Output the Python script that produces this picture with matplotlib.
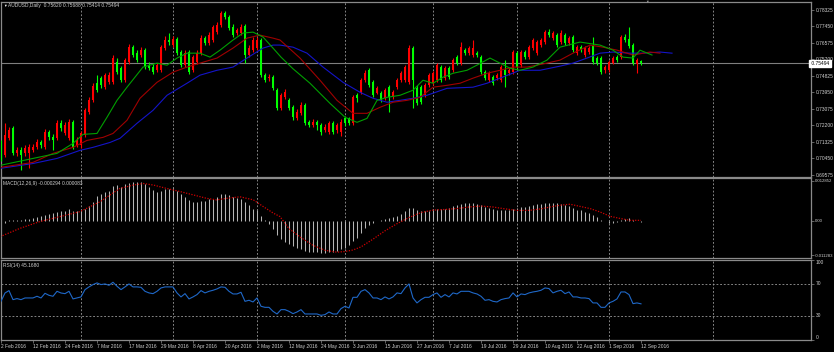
import matplotlib
matplotlib.use("Agg")
import matplotlib.pyplot as plt
from matplotlib.transforms import blended_transform_factory

W, H = 834, 352

# ---------------- data ----------------
date_labels = ["2 Feb 2016", "12 Feb 2016", "24 Feb 2016", "7 Mar 2016", "17 Mar 2016",
               "29 Mar 2016", "8 Apr 2016", "20 Apr 2016", "2 May 2016", "12 May 2016",
               "24 May 2016", "3 Jun 2016", "15 Jun 2016", "27 Jun 2016", "7 Jul 2016",
               "19 Jul 2016", "29 Jul 2016", "10 Aug 2016", "22 Aug 2016", "1 Sep 2016",
               "12 Sep 2016"]
date_bars = [0, 8, 16, 24, 32, 40, 48, 56, 64, 72, 80, 88, 96, 104, 112, 120, 128, 136, 144, 152, 160]
month_grid_bars = [20, 43, 64, 86, 108, 129, 152, 178]

price_ticks = [0.78325, 0.77450, 0.76575, 0.75700, 0.74825, 0.73950,
               0.73075, 0.72200, 0.71325, 0.70450, 0.69575]

opens = [.7123, .7059, .7150, .7203, .7070, .7086, .7070, .7070, .7086, .7102,
         .7128, .7102, .7182, .7155, .7150, .7230, .7176, .7150, .7235, .7112,
         .7112, .7166, .7288, .7352, .7443, .7470, .7422, .7448, .7448, .7555,
         .7523, .7459, .7555, .7635, .7603, .7593, .7619, .7539, .7529, .7512,
         .7512, .7630, .7673, .7646, .7678, .7609, .7539, .7609, .7512, .7555,
         .7603, .7683, .7657, .7673, .7715, .7753, .7817, .7795, .7742, .7710,
         .7710, .7747, .7593, .7619, .7630, .7673, .7486, .7470, .7475, .7406,
         .7310, .7368, .7352, .7315, .7256, .7283, .7326, .7235, .7219, .7235,
         .7219, .7192, .7182, .7230, .7192, .7182, .7256, .7256, .7230, .7379,
         .7390, .7459, .7512, .7448, .7390, .7390, .7363, .7422, .7368, .7422,
         .7459, .7459, .7448, .7630, .7416, .7422, .7379, .7432, .7443, .7459,
         .7529, .7470, .7523, .7512, .7582, .7550, .7619, .7603, .7593, .7603,
         .7582, .7502, .7459, .7475, .7470, .7459, .7512, .7496, .7502, .7603,
         .7539, .7609, .7582, .7630, .7603, .7646, .7662, .7715, .7683, .7699,
         .7662, .7699, .7657, .7689, .7603, .7635, .7593, .7609, .7646, .7577,
         .7577, .7512, .7512, .7550, .7582, .7582, .7689, .7678, .7646, .7545,
         .75620]
highs = [.7139, .7230, .7208, .7214, .7102, .7102, .7112, .7118, .7118, .7144,
         .7139, .7198, .7192, .7171, .7246, .7246, .7235, .7251, .7246, .7155,
         .7187, .7310, .7368, .7443, .7486, .7480, .7496, .7502, .7593, .7577,
         .7534, .7577, .7651, .7646, .7619, .7635, .7630, .7555, .7545, .7550,
         .7646, .7694, .7710, .7694, .7689, .7619, .7619, .7619, .7593, .7619,
         .7699, .7694, .7715, .7753, .7769, .7827, .7827, .7806, .7758, .7737,
         .7758, .7758, .7646, .7689, .7689, .7683, .7496, .7491, .7486, .7416,
         .7390, .7411, .7363, .7326, .7304, .7342, .7336, .7246, .7251, .7246,
         .7230, .7224, .7240, .7240, .7230, .7251, .7267, .7262, .7379, .7390,
         .7470, .7512, .7523, .7459, .7427, .7400, .7416, .7432, .7406, .7470,
         .7507, .7539, .7646, .7641, .7432, .7432, .7443, .7496, .7507, .7550,
         .7539, .7534, .7534, .7577, .7593, .7662, .7630, .7641, .7673, .7614,
         .7593, .7512, .7507, .7486, .7496, .7539, .7566, .7523, .7619, .7614,
         .7619, .7619, .7646, .7683, .7673, .7683, .7726, .7731, .7721, .7710,
         .7726, .7710, .7694, .7699, .7646, .7646, .7641, .7641, .7689, .7587,
         .7587, .7539, .7566, .7587, .7593, .7699, .7705, .7742, .7657, .7577,
         .75688]
lows = [.7032, .7048, .7139, .7059, .7054, .6979, .7054, .6990, .7075, .7091,
        .7096, .7091, .7139, .7086, .7139, .7187, .7166, .7139, .7091, .7102,
        .7096, .7155, .7278, .7342, .7395, .7416, .7411, .7438, .7438, .7491,
        .7448, .7448, .7545, .7582, .7555, .7582, .7518, .7512, .7491, .7502,
        .7502, .7619, .7646, .7635, .7593, .7529, .7529, .7491, .7502, .7545,
        .7593, .7646, .7646, .7662, .7705, .7742, .7785, .7726, .7689, .7699,
        .7699, .7550, .7582, .7609, .7619, .7475, .7448, .7454, .7406, .7299,
        .7299, .7358, .7299, .7246, .7246, .7272, .7219, .7208, .7208, .7192,
        .7166, .7182, .7171, .7171, .7176, .7160, .7214, .7219, .7219, .7342,
        .7384, .7448, .7422, .7368, .7384, .7342, .7352, .7288, .7358, .7411,
        .7448, .7448, .7438, .7310, .7326, .7331, .7368, .7422, .7432, .7448,
        .7448, .7459, .7464, .7502, .7539, .7539, .7593, .7593, .7582, .7582,
        .7491, .7459, .7448, .7432, .7459, .7448, .7422, .7486, .7491, .7518,
        .7529, .7571, .7571, .7619, .7593, .7635, .7651, .7689, .7673, .7635,
        .7651, .7646, .7646, .7609, .7593, .7609, .7582, .7598, .7545, .7539,
        .7491, .7496, .7502, .7545, .7555, .7571, .7662, .7630, .7539, .7496,
        .75414]
closes = [.7043, .7166, .7192, .7070, .7086, .7059, .7096, .7102, .7102, .7128,
          .7112, .7182, .7155, .7139, .7230, .7203, .7219, .7235, .7102, .7139,
          .7176, .7299, .7352, .7427, .7406, .7432, .7486, .7486, .7577, .7502,
          .7459, .7566, .7635, .7593, .7566, .7619, .7529, .7523, .7502, .7539,
          .7635, .7673, .7662, .7678, .7603, .7539, .7603, .7502, .7582, .7603,
          .7683, .7657, .7699, .7742, .7753, .7817, .7795, .7737, .7699, .7726,
          .7742, .7593, .7630, .7673, .7673, .7486, .7459, .7475, .7416, .7310,
          .7379, .7395, .7310, .7262, .7288, .7326, .7230, .7219, .7235, .7219,
          .7182, .7208, .7230, .7182, .7219, .7235, .7230, .7230, .7368, .7363,
          .7459, .7496, .7432, .7379, .7416, .7352, .7406, .7368, .7395, .7459,
          .7496, .7529, .7630, .7459, .7336, .7342, .7432, .7486, .7496, .7539,
          .7459, .7523, .7475, .7566, .7550, .7635, .7603, .7630, .7630, .7593,
          .7502, .7470, .7496, .7443, .7486, .7529, .7486, .7512, .7609, .7529,
          .7609, .7582, .7635, .7673, .7662, .7673, .7715, .7699, .7710, .7646,
          .7710, .7657, .7683, .7619, .7635, .7619, .7630, .7630, .7555, .7550,
          .7502, .7529, .7555, .7577, .7566, .7689, .7673, .7641, .7550, .7566,
          .75494]

# Alligator lines (bar index, price)
lips_x = [-0.25, 8, 14, 18, 20.5, 24, 26.5, 29, 31.5, 35.5, 39, 41.5, 44, 46.5, 49.75, 52.25,
          54.75, 58, 60.5, 63, 65.5, 68, 70, 73, 77.25, 82.25, 86, 89, 91.5, 94, 96.5, 99.75,
          103, 105.5, 108, 110.5, 113, 116.5, 119.5, 122.25, 124.75, 127.25, 129.75, 133,
          136.5, 139.75, 144.75, 149.75, 153, 155.5, 158, 159.75, 162.75]
lips_y = [.7006, .7043, .7070, .7123, .7171, .7176, .7262, .7352, .7422, .7529, .7550, .7539,
          .7577, .7603, .7603, .7582, .7619, .7673, .7710, .7715, .7689, .7630, .7582, .7520,
          .7443, .7336, .7262, .7235, .7256, .7352, .7368, .7379, .7406, .7459, .7443, .7475,
          .7496, .7512, .7545, .7577, .7550, .7523, .7512, .7529, .7566, .7635, .7662, .7646,
          .7619, .7582, .7577, .7619, .7593]
teeth_x = [-0.25, 8, 13, 18, 21.5, 25.5, 28, 31.5, 34.75, 39, 43, 46.5, 49.75, 54, 58, 61.5,
           64.75, 68, 69.75, 74.75, 79.75, 84, 88, 91.5, 94.75, 98, 101.5, 104.75, 108, 111.5,
           114.75, 118, 121.5, 124.75, 128, 131.5, 136.5, 139.75, 143, 147.25, 150.5, 154,
           158, 162.25, 164.75]
teeth_y = [.6995, .7022, .7070, .7102, .7139, .7155, .7176, .7246, .7363, .7448, .7502, .7529,
           .7550, .7577, .7630, .7683, .7699, .7683, .7673, .7577, .7459, .7352, .7283, .7283,
           .7315, .7342, .7352, .7368, .7422, .7432, .7443, .7470, .7496, .7512, .7529, .7529,
           .7550, .7566, .7603, .7646, .7635, .7619, .7593, .7609, .7603]
jaw_x = [-0.25, 8, 14, 19.75, 23, 27.25, 29.75, 34, 38, 41.5, 46.5, 49.75, 54, 58, 61.5, 65.5,
         68, 69.75, 73, 76.5, 80.5, 85.5, 89.75, 93, 96.5, 99.75, 103, 106.5, 111.5, 118,
         121.5, 124.75, 129.75, 134.75, 139.75, 143, 146.5, 149.75, 153, 157.25, 160.5,
         164.75, 167.75]
jaw_y = [.6990, .7016, .7043, .7086, .7102, .7128, .7150, .7230, .7299, .7379, .7443, .7486,
         .7512, .7529, .7577, .7630, .7646, .7646, .7635, .7603, .7529, .7448, .7395, .7363,
         .7342, .7352, .7363, .7379, .7416, .7422, .7443, .7470, .7512, .7512, .7534, .7550,
         .7577, .7603, .7609, .7603, .7603, .7609, .7603]

macd_main = [0.0000, -0.0009, 0.0002, 0.0002, 0.0002, 0.0002, 0.0004, 0.0006, 0.0009, 0.0011,
             0.0015, 0.0018, 0.0020, 0.0024, 0.0027, 0.0030, 0.0032, 0.0037, 0.0031, 0.0030,
             0.0034, 0.0038, 0.0047, 0.0061, 0.0080, 0.0086, 0.0094, 0.0097, 0.0112, 0.0114,
             0.0110, 0.0118, 0.0123, 0.0126, 0.0126, 0.0126, 0.0117, 0.0108, 0.0099, 0.0094,
             0.0096, 0.0101, 0.0102, 0.0104, 0.0097, 0.0086, 0.0077, 0.0067, 0.0061, 0.0059,
             0.0063, 0.0063, 0.0069, 0.0069, 0.0077, 0.0085, 0.0086, 0.0083, 0.0077, 0.0072,
             0.0070, 0.0059, 0.0051, 0.0037, 0.0034, 0.0015, 0.0002, -0.0011, -0.0028, -0.0046,
             -0.0058, -0.0068, -0.0076, -0.0083, -0.0089, -0.0093, -0.0097, -0.0100, -0.0102, -0.0103,
             -0.0104, -0.0104, -0.0103, -0.0101, -0.0098, -0.0093, -0.0087, -0.0080, -0.0066, -0.0055,
             -0.0040, -0.0025, -0.0015, -0.0008, -0.0002, 0.0002, 0.0005, 0.0008, 0.0011, 0.0016,
             0.0022, 0.0030, 0.0042, 0.0040, 0.0035, 0.0032, 0.0031, 0.0032, 0.0034, 0.0037,
             0.0037, 0.0038, 0.0040, 0.0048, 0.0050, 0.0054, 0.0056, 0.0057, 0.0057, 0.0055,
             0.0050, 0.0045, 0.0041, 0.0037, 0.0035, 0.0035, 0.0035, 0.0035, 0.0039, 0.0040,
             0.0043, 0.0044, 0.0047, 0.0051, 0.0053, 0.0055, 0.0058, 0.0058, 0.0057, 0.0056,
             0.0055, 0.0049, 0.0046, 0.0042, 0.0035, 0.0033, 0.0028, 0.0025, 0.0017, 0.0012,
             0.0003, 0.0000, -0.0008, -0.0008, -0.0005, 0.0001, 0.0005, 0.0010, 0.0003, 0.0000,
             -0.000294]
signal_x = [-0.25, 4.75, 9.75, 14.75, 19.75, 22.25, 24.75, 27.25, 29.75, 33.1, 35.6, 38.1, 41.4,
            44.75, 48.1, 51.4, 53.9, 56.4, 59.75, 63.1, 65.6, 68.1, 69.75, 72, 75, 78, 81, 84,
            86, 88, 90, 93, 96, 99, 102, 105, 108, 111, 114, 117, 120, 123, 126, 129, 132, 135,
            138, 140, 142.25, 144.75, 147.25, 149.75, 152.25, 154.75, 157.25, 160]
signal_y = [-0.0052, -0.0025, -0.0003, 0.0013, 0.0029, 0.0045, 0.0061, 0.0083, 0.0104, 0.0115,
            0.0120, 0.0115, 0.0104, 0.0094, 0.0083, 0.0072, 0.0067, 0.0072, 0.0077, 0.0067,
            0.0045, 0.0024, 0.0013, -0.0026, -0.0055, -0.0080, -0.0096, -0.0102, -0.0100,
            -0.0095, -0.0085, -0.0060, -0.0033, -0.0010, 0.0010, 0.0026, 0.0034, 0.0036,
            0.0039, 0.0044, 0.0047, 0.0044, 0.0038, 0.0033, 0.0033, 0.0038, 0.0046, 0.0050,
            0.0053, 0.0046, 0.0039, 0.0028, 0.0014, 0.0007, 0.0001, 0.000083]

rsi = [48.3, 58.7, 61.7, 50.4, 51.7, 50.4, 52.5, 52.5, 52.5, 54.6,
       52.5, 58.3, 55.8, 54.6, 60.8, 58.7, 57.9, 60.8, 51.3, 52.5,
       53.8, 62.9, 66.3, 69.2, 71.3, 69.2, 70.0, 68.3, 72.1, 67.1,
       62.9, 66.3, 70.0, 66.3, 66.3, 65.8, 60.8, 58.8, 57.9, 60.8,
       65.0, 66.3, 66.3, 66.3, 58.8, 53.8, 57.9, 51.3, 53.8, 56.7,
       61.7, 58.8, 60.8, 62.1, 63.8, 66.3, 65.8, 60.8, 57.5, 57.5,
       59.6, 48.3, 49.6, 47.5, 52.5, 42.1, 40.8, 40.8, 35.8, 32.5,
       37.9, 37.9, 35.8, 32.9, 35.0, 37.9, 32.5, 32.5, 32.5, 32.5,
       30.8, 31.7, 35.0, 32.5, 32.5, 39.2, 42.1, 40.0, 53.3, 53.3,
       60.8, 62.9, 58.8, 52.5, 52.5, 50.4, 53.8, 51.3, 53.8, 58.8,
       57.9, 65.0, 70.0, 52.5, 46.3, 50.4, 53.3, 53.3, 56.7, 58.8,
       53.3, 56.7, 53.8, 58.8, 57.5, 60.8, 60.8, 60.8, 58.8, 57.5,
       54.6, 49.6, 50.4, 48.3, 47.5, 50.4, 51.7, 52.5, 58.8, 53.8,
       57.5, 56.7, 58.8, 60.0, 60.8, 62.1, 65.0, 64.2, 58.8, 60.8,
       62.1, 57.9, 60.0, 53.8, 53.8, 52.5, 52.5, 51.7, 46.3, 46.3,
       40.8, 40.8, 46.3, 48.3, 51.3, 60.0, 60.0, 56.7, 45.4, 46.3,
       45.168]

# ---------------- styling ----------------
BG = "black"
SPINE = "#8a8a8a"
TXT = "#d0d0d0"
GRID = "#9a9a9a"
UP = "#ff0000"
DOWN = "#00ff00"
FONT = "Liberation Sans"
FS = 3.5

plt.rcParams["font.family"] = [FONT, "DejaVu Sans"]

fig = plt.figure(figsize=(W / 100, H / 100), dpi=100, facecolor=BG)


def axes_px(top, bottom, left=0.5, right=810.5):
    return fig.add_axes([left / W, 1 - bottom / H, (right - left) / W, (bottom - top) / H])


ax_p = axes_px(2, 176.5)
ax_m = axes_px(177.5, 258.3)
ax_r = axes_px(259.6, 340)

XMIN, XMAX = -0.125, 202.375
for ax in (ax_p, ax_m, ax_r):
    ax.set_facecolor(BG)
    ax.set_xlim(XMIN, XMAX)
    for s in ax.spines.values():
        s.set_color(SPINE)
        s.set_linewidth(0.9)
    ax.yaxis.tick_right()
    ax.tick_params(axis="y", colors=SPINE, labelcolor=TXT, labelsize=FS,
                   length=2.5, width=0.5, pad=1.2, direction="out")
    for b in month_grid_bars:
        ax.axvline(b, color=GRID, lw=0.6, ls=(0, (2.2, 2.2)), zorder=0.5)
    ax.tick_params(axis="x", bottom=False, labelbottom=False)

# ---------------- price panel ----------------
ax_p.set_ylim(0.69469, 0.78752)
n = len(closes)
xs = list(range(n))
cols = [UP if closes[i] >= opens[i] else DOWN for i in xs]
ax_p.vlines(xs, lows, highs, colors=cols, lw=0.8, zorder=3)
body_h = [max(abs(closes[i] - opens[i]), 0.00012) for i in xs]
body_b = [min(closes[i], opens[i]) for i in xs]
ax_p.bar(xs, body_h, bottom=body_b, width=0.72, color=cols, linewidth=0, zorder=4)

ax_p.plot(jaw_x, jaw_y, color="#1414c8", lw=0.8, zorder=5)
ax_p.plot(teeth_x, teeth_y, color="#a00000", lw=0.8, zorder=5)
ax_p.plot(lips_x, lips_y, color="#00a000", lw=0.8, zorder=5)

last_close = closes[-1]
ax_p.axhline(last_close, color="#7f7f7f", lw=0.8, zorder=2)

ax_p.set_yticks(price_ticks)
ax_p.set_yticklabels([f"{v:.5f}" for v in price_ticks])
trans = blended_transform_factory(ax_p.transAxes, ax_p.transData)
ax_p.text(1.0, last_close, f" {last_close:.5f}", transform=trans, fontsize=FS, color="black",
          va="center", ha="left", zorder=10, clip_on=False,
          bbox=dict(boxstyle="square,pad=0.25", facecolor="white", edgecolor="white"))

fig.text(8 / W, 1 - 5.5 / H, f"AUDUSD,Daily  {opens[-1]:.5f} {highs[-1]:.5f} {lows[-1]:.5f} {closes[-1]:.5f}",
         color=TXT, fontsize=FS, va="center", ha="left")
fig.text(3 / W, 1 - 5.5 / H, "\u25BC", color="white", fontsize=2.6, va="center", ha="left")
fig.text(647.5 / W, 1 - 1.8 / H, "\u25BC", color="#9a9a9a", fontsize=2.6, va="center", ha="center")

# ---------------- MACD panel ----------------
ax_m.set_ylim(-0.01219, 0.01394)
ax_m.vlines(list(range(len(macd_main))), 0, macd_main, colors="#b4b4b4", lw=0.75, zorder=3)
ax_m.plot(signal_x, signal_y, color="#d00000", lw=0.9, ls=(0, (1, 1.2)), zorder=4)
ax_m.set_yticks([0.012852, 0.0, -0.011283])
ax_m.set_yticklabels(["0.012852", "0.00", "-0.011283"])
ax_m.tick_params(axis="y", labelsize=3.1, pad=0.8)
fig.text(3 / W, 1 - 183 / H, f"MACD(12,26,9) {macd_main[-1]:.6f} {signal_y[-1]:.6f}",
         color=TXT, fontsize=FS, va="center", ha="left")

# ---------------- RSI panel ----------------
ax_r.set_ylim(0.4, 100.4)
ax_r.plot(list(range(len(rsi))), rsi, color="#1f68c8", lw=0.8, zorder=4)
for lvl in (70, 30):
    ax_r.axhline(lvl, color=GRID, lw=0.6, ls=(0, (2.2, 2.2)), zorder=0.5)
ax_r.set_yticks([100, 70, 30, 0])
ax_r.set_yticklabels(["100", "70", "30", "0"])
for lab, va in zip(ax_r.get_yticklabels(), ["top", "center", "center", "bottom"]):
    lab.set_va(va)
fig.text(3 / W, 1 - 265 / H, f"RSI(14) {rsi[-1]:.4f}", color=TXT, fontsize=FS,
         va="center", ha="left")

ax_r.tick_params(axis="x", bottom=True, labelbottom=True, colors=SPINE, labelcolor=TXT,
                 labelsize=FS, length=2, width=0.5, pad=0.8, direction="out")
ax_r.set_xticks(date_bars)
ax_r.set_xticklabels(date_labels, ha="left")

fig.savefig("out.png", dpi=100, facecolor=BG)
